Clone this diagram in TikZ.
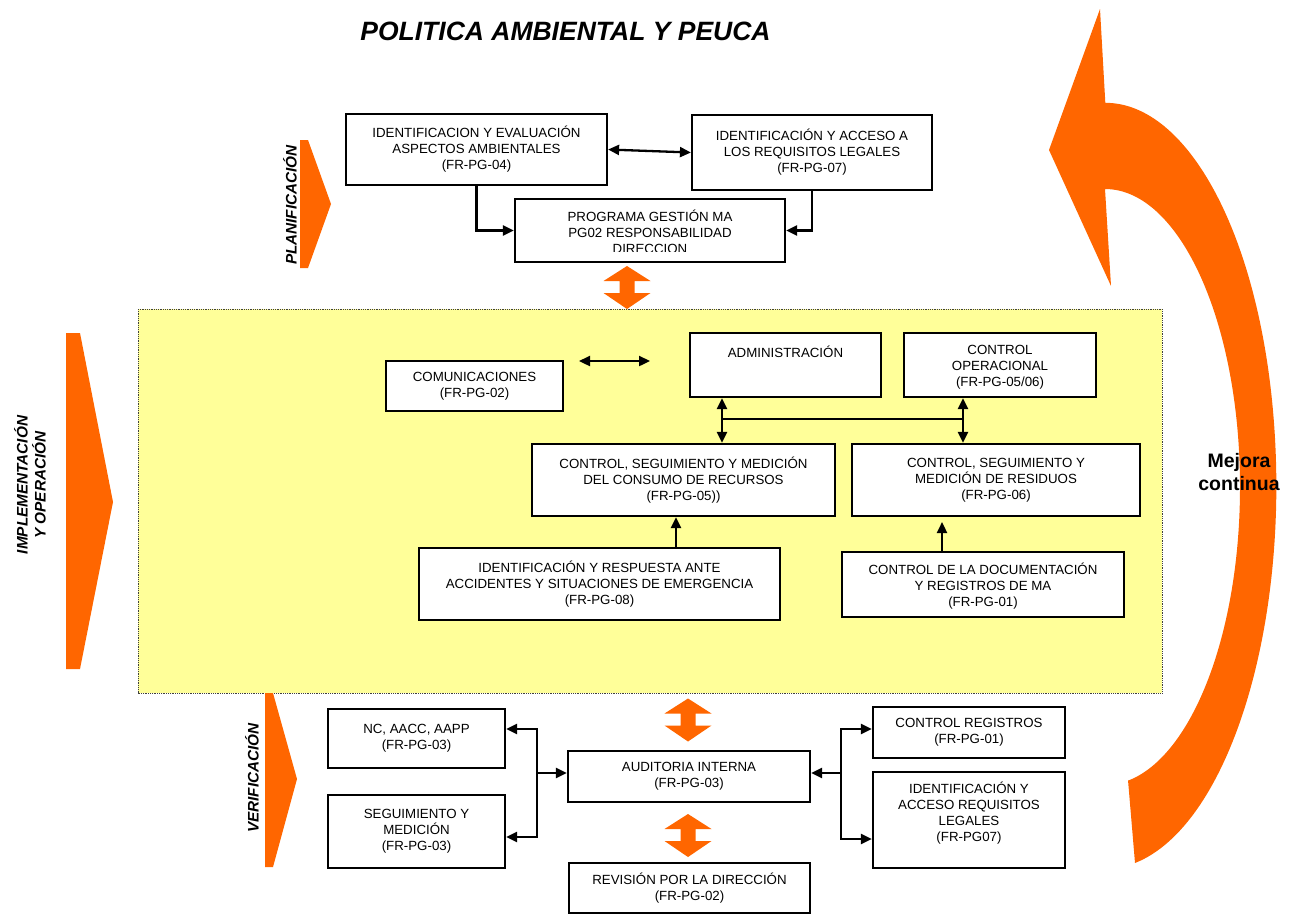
\documentclass[tikz,border=0pt]{standalone}
\usepackage{fontspec}
\setmainfont{Liberation Sans}
\usetikzlibrary{arrows.meta}
\definecolor{naranja}{RGB}{255,102,0}
\definecolor{amarillo}{RGB}{255,255,153}
\begin{document}
\begin{tikzpicture}[x=1pt,y=-1pt,
        caja/.style={draw,line width=2.2pt,fill=white,inner sep=0pt,align=center,font=\fontsize{13.3}{16}\selectfont},
        texto/.style={inner sep=0pt,align=center,font=\fontsize{13.3}{16}\selectfont},
        flecha/.style={line width=2.3pt,-{Triangle[length=11pt,width=10pt]}},
        dflecha/.style={line width=2.3pt,{Triangle[length=11pt,width=10pt]}-{Triangle[length=11pt,width=10pt]}},
        etapa/.style={font=\fontsize{15.3}{18}\selectfont\bfseries\itshape,rotate=90,align=center}]
                \useasboundingbox (0,0) rectangle (1301,914);
                \node[font=\fontsize{26.5}{30}\selectfont\bfseries\itshape] (titulo) at (565.5,31) {POLITICA AMBIENTAL Y PEUCA};
                \draw[fill=amarillo,draw=black!75,densely dotted,line width=0.8pt] (138,309) rectangle (1162,693);
                \fill[naranja] (300,140) -- (308,140) -- (331,204) -- (308,268) -- (300,268) -- cycle;
                \fill[naranja] (66,333) -- (80,333) -- (113,502) -- (80,669) -- (66,669) -- cycle;
                \fill[naranja] (265,693) -- (273,693) -- (297,779) -- (273,867) -- (265,867) -- cycle;
                \foreach \cx/\cy in {627/287.5,688/720,688/835.5}
                {
                    \fill[naranja] (\cx,\cy-21.5) -- (\cx+23.5,\cy-6.5) -- (\cx+7.5,\cy-6.5) -- (\cx+7.5,\cy+5.5) -- (\cx+23.5,\cy+5.5) -- (\cx,\cy+21.5) -- (\cx-23.5,\cy+5.5) -- (\cx-7.5,\cy+5.5) -- (\cx-7.5,\cy-6.5) -- (\cx-23.5,\cy-6.5) -- cycle;
                }
                \fill[naranja] (1128,780) -- (1135,863) arc[start angle=80,end angle=-90,x radius=171,y radius=383] -- (1100,9) -- (1049,150) -- (1111,286) -- (1105,189) arc[start angle=-90,end angle=80,x radius=135,y radius=298] -- cycle;
                \node[font=\fontsize{19.5}{23}\selectfont\bfseries,align=center] (mejora) at (1239,472.5) {Mejora\\continua};
                \node[etapa] (planif) at (290,205) {PLANIFICACIÓN};
                \node[etapa] (implem) at (30,485) {IMPLEMENTACIÓN\\Y OPERACIÓN};
                \node[etapa] (verif) at (252,778) {VERIFICACIÓN};
                \node[caja,minimum width=261,minimum height=71] (aspectos) at (476.5,149.5) {IDENTIFICACION Y EVALUACIÓN\\ASPECTOS AMBIENTALES\\(FR-PG-04)};
                \node[caja,minimum width=240,minimum height=75] (requisitos) at (812,152.5) {IDENTIFICACIÓN Y ACCESO A\\LOS REQUISITOS LEGALES\\(FR-PG-07)};
                \node[caja,minimum width=270,minimum height=63] (programa) at (650,230.5) {};
                \begin{scope}
                    \clip (programa.north west) rectangle ([yshift=12]programa.south east);
                    \node[texto] (programa-t) at ([yshift=-1.5]programa.center) {PROGRAMA GESTIÓN MA\\PG02 RESPONSABILIDAD\\DIRECCION};
                \end{scope}
                \node[caja,minimum width=177,minimum height=50] (comunic) at (474.5,386) {COMUNICACIONES\\(FR-PG-02)};
                \node[caja,minimum width=191,minimum height=64] (admin) at (785.5,365) {};
                \node[texto] (admin-t) at ([yshift=13]admin.center) {ADMINISTRACIÓN};
                \node[caja,minimum width=192,minimum height=64] (operac) at (1000,365) {};
                \begin{scope}
                    \clip (operac.north west) rectangle ([yshift=10]operac.south east);
                    \node[texto] (operac-t) at ([yshift=-2.5]operac.center) {CONTROL\\OPERACIONAL\\(FR-PG-05/06)};
                \end{scope}
                \node[caja,minimum width=303,minimum height=72] (consumo) at (683.5,480) {CONTROL, SEGUIMIENTO Y MEDICIÓN\\DEL CONSUMO DE RECURSOS\\(FR-PG-05))};
                \node[caja,minimum width=288,minimum height=72] (residuos) at (996,480) {CONTROL, SEGUIMIENTO Y\\MEDICIÓN DE RESIDUOS\\(FR-PG-06)};
                \node[caja,minimum width=361,minimum height=72] (emergencia) at (599.5,584) {IDENTIFICACIÓN Y RESPUESTA ANTE\\ACCIDENTES Y SITUACIONES DE EMERGENCIA\\(FR-PG-08)};
                \node[caja,minimum width=282,minimum height=65] (documentac) at (983,584.5) {};
                \begin{scope}
                    \clip (documentac.north west) rectangle ([yshift=10]documentac.south east);
                    \node[texto] (documentac-t) at ([yshift=-1.5]documentac.center) {CONTROL DE LA DOCUMENTACIÓN\\Y REGISTROS DE MA\\(FR-PG-01)};
                \end{scope}
                \node[caja,minimum width=177,minimum height=59] (noconf) at (416.5,738.5) {NC, AACC, AAPP\\(FR-PG-03)};
                \node[caja,minimum width=177,minimum height=73] (seguim) at (416.5,831.5) {SEGUIMIENTO Y\\MEDICIÓN\\(FR-PG-03)};
                \node[caja,minimum width=242,minimum height=51] (auditoria) at (689,776.5) {AUDITORIA INTERNA\\(FR-PG-03)};
                \node[caja,minimum width=241,minimum height=50] (revision) at (689.5,888) {REVISIÓN POR LA DIRECCIÓN\\(FR-PG-02)};
                \node[caja,minimum width=192,minimum height=51] (registros) at (969,732.5) {CONTROL REGISTROS\\(FR-PG-01)};
                \node[caja,minimum width=192,minimum height=96] (legales) at (969,820) {};
                \node[texto] (legales-t) at ([yshift=6.5]legales.center) {IDENTIFICACIÓN Y\\ACCESO REQUISITOS\\LEGALES\\(FR-PG07)};
                \draw[dflecha] (aspectos.east) -- (requisitos.west);
                \draw[flecha] (aspectos.south) |- (programa.west);
                \draw[flecha] (requisitos.south) |- (programa.east);
                \coordinate (com-a) at (579,361);
                \coordinate (com-b) at (650,361);
                \draw[dflecha] (com-a) -- (com-b);
                \coordinate (bus-a) at (722,419);
                \coordinate (bus-b) at (963,419);
                \draw[dflecha] (bus-a |- admin.south) -- (bus-a |- consumo.north);
                \draw[dflecha] (bus-b |- operac.south) -- (bus-b |- residuos.north);
                \draw[line width=2.3pt] (bus-a) -- (bus-b);
                \coordinate (emer-x) at (676,0);
                \draw[flecha] (emer-x |- emergencia.north) -- (emer-x |- consumo.south);
                \coordinate (doc-x) at (942,522);
                \draw[flecha] (doc-x |- documentac.north) -- (doc-x);
                \coordinate (izq) at (537,773);
                \coordinate (izq-a) at (537,729);
                \coordinate (izq-b) at (537,837);
                \draw[dflecha] (izq-a -| noconf.east) -- (izq-a) -- (izq-b) -- (izq-b -| seguim.east);
                \draw[flecha] (izq) -- (izq -| auditoria.west);
                \coordinate (der) at (841,773);
                \coordinate (der-a) at (841,729);
                \coordinate (der-b) at (841,839);
                \draw[dflecha] (der-a -| registros.west) -- (der-a) -- (der-b) -- (der-b -| legales.west);
                \draw[flecha] (der) -- (der -| auditoria.east);
            \end{tikzpicture}
\end{document}
